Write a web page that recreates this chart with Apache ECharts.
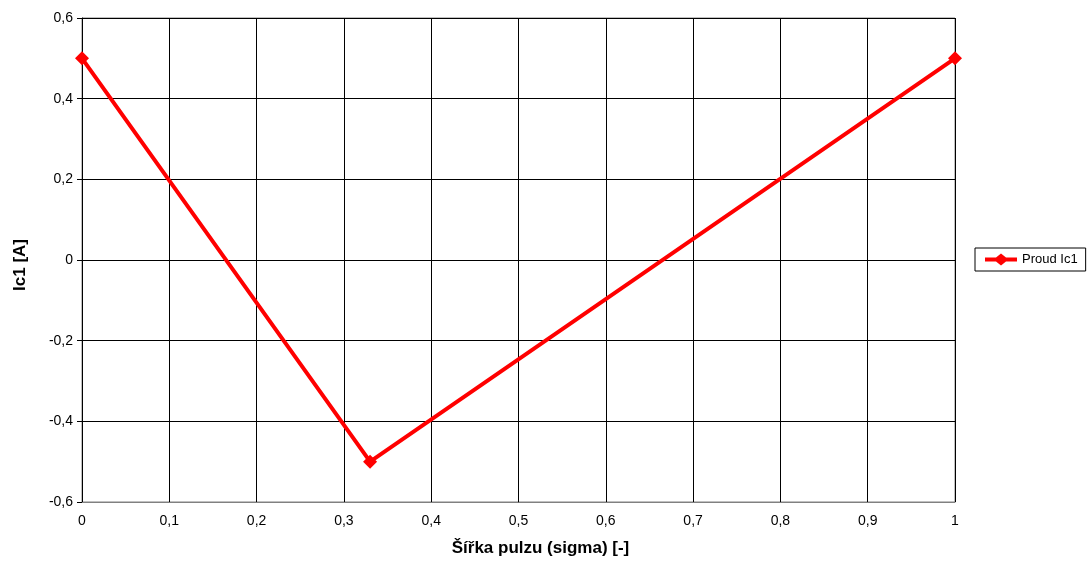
<!DOCTYPE html>
<html><head><meta charset="utf-8">
<script src="https://cdn.jsdelivr.net/npm/echarts@6/dist/echarts.min.js"></script>
<style>html,body{margin:0;padding:0;background:#fff}#c{width:1089px;height:562px}</style>
</head><body><div id="c"></div>
<script>
const seriesName = 'Proud Ic1';
const xValues = [0, 0.33, 1];
const yValues = [0.5, -0.5, 0.5];
const xAxisName = 'Šířka pulzu (sigma) [-]';
const yAxisName = 'Ic1 [A]';

const fmt = v => String(Math.round(v * 10) / 10).replace('.', ',');
const FONT = 'Liberation Sans, Arial, sans-serif';
const chart = echarts.init(document.getElementById('c'));
chart.setOption({
  animation: false,
  textStyle: { fontFamily: FONT },
  grid: { left: 82, top: 18, width: 873, height: 484, show: true, borderColor: '#808080', borderWidth: 1, containLabel: false, outerBoundsMode: 'none' },
  legend: {
    left: 975, top: 248, orient: 'vertical',
    padding: [5, 8, 5, 10],
    borderColor: '#000', borderWidth: 1, borderRadius: 0,
    itemWidth: 32, itemHeight: 12, itemGap: 4,
    textStyle: { fontSize: 13, color: '#000', fontFamily: FONT },
    data: [{ name: seriesName, icon: 'path://M0,4 L11,4 L16,0 L21,4 L32,4 L32,8 L21,8 L16,12 L11,8 L0,8 Z' }]
  },
  xAxis: {
    type: 'value', min: 0, max: 1, interval: 0.1,
    name: xAxisName, nameLocation: 'middle', nameGap: 38,
    nameTextStyle: { fontSize: 17, fontWeight: 'bold', color: '#000', padding: [0, 0, 0, 44] },
    axisLine: { show: true, onZero: false, lineStyle: { color: '#808080' } },
    axisTick: { show: false },
    axisLabel: { formatter: fmt, fontSize: 14, color: '#000', margin: 12 },
    splitLine: { show: true, lineStyle: { color: '#000', width: 1 } }
  },
  yAxis: {
    type: 'value', min: -0.6, max: 0.6, interval: 0.2,
    name: yAxisName, nameLocation: 'middle', nameGap: 53, nameRotate: 90,
    nameTextStyle: { fontSize: 17, fontWeight: 'bold', color: '#000', padding: [0, 10, 0, 0] },
    axisLine: { show: true, onZero: false, lineStyle: { color: '#000' } },
    axisTick: { show: true, inside: false, length: 5, lineStyle: { color: '#000' } },
    axisLabel: { formatter: fmt, fontSize: 14, color: '#000', margin: 9 },
    splitLine: { show: true, lineStyle: { color: '#000', width: 1 } }
  },
  series: [{
    name: seriesName, type: 'line',
    data: xValues.map((x, i) => [x, yValues[i]]),
    symbol: 'diamond', symbolSize: 14,
    lineStyle: { color: '#FF0000', width: 4 },
    itemStyle: { color: '#FF0000' }
  }]
});
</script></body></html>
